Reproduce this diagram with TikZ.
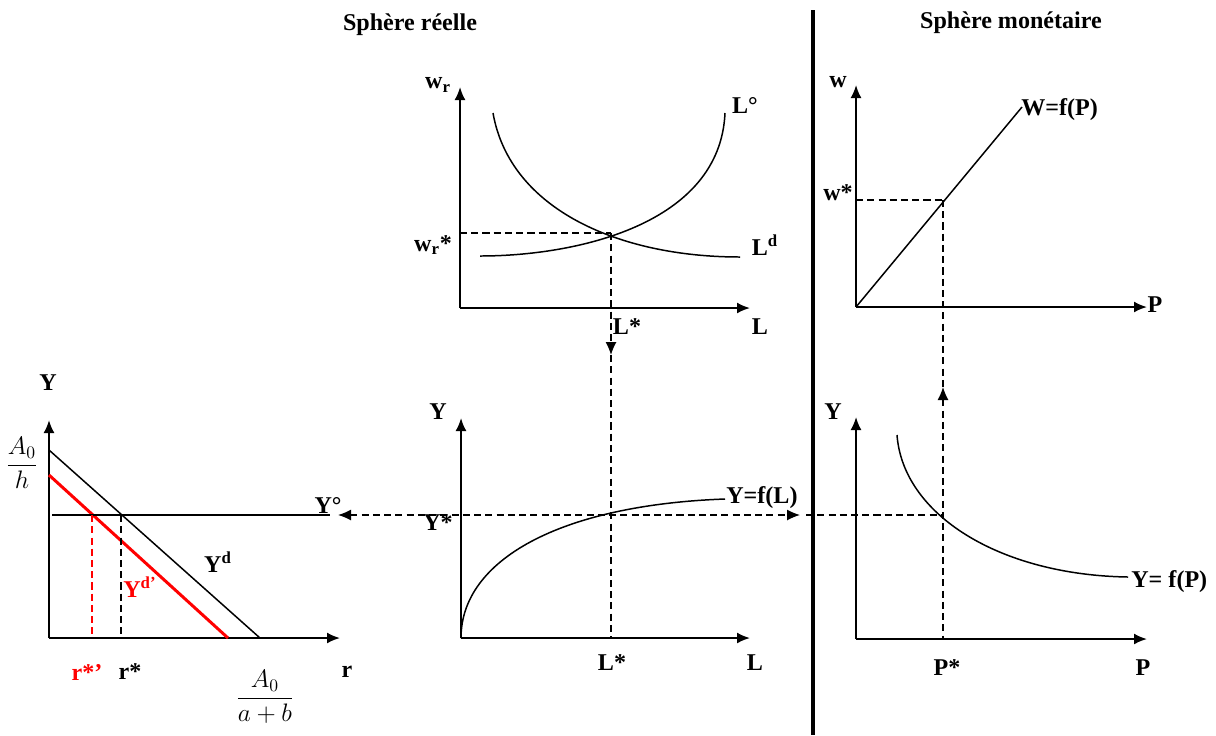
\documentclass[tikz,border=0pt]{standalone}
\usepackage{fontspec}
\setmainfont{Liberation Serif}
\usepackage{amsmath}
\usetikzlibrary{arrows.meta}

\tikzset{
  axe/.style={->,line width=1.1pt},
  courbe/.style={line width=0.85pt},
  pointille/.style={line width=0.7pt,dash pattern=on 4pt off 2.4pt},
  lab/.style={font=\fontsize{13.7}{16}\selectfont\bfseries,inner sep=0pt}
}

\begin{document}
\begin{tikzpicture}[x=0.02cm,y=-0.02cm,>={Latex[length=2.6mm,width=2.2mm]}]
\useasboundingbox (0,0) rectangle (1216,735);

\draw[line width=2.8pt] (813,10) -- (813,735);
\node[lab] (T1) at (410,25) {Sphère réelle};
\node[lab] (T2) at (1011,23) {Sphère monétaire};

% marche du travail
\coordinate (O1) at (460,308);
\coordinate (E1) at (611,233);
\draw[axe] (O1) -- (460,87);
\draw[axe] (O1) -- (750,308);
\draw[courbe] (480,256) .. controls (575,256) and (720,225) .. (725,113);
\draw[courbe] (493,113) .. controls (510,210) and (620,257) .. (740,257);
\draw[pointille] (460,233) -- (E1);
\draw[pointille,->] (E1) -- (611,355);
\draw[pointille] (611,355) -- (611,638);
\node[lab] (wr) at (438,85) {w\textsubscript{r}};
\node[lab] (wrs) at (433,245) {w\textsubscript{r}*};
\node[lab] (Lo) at (745,105) {L°};
\node[lab] (Ld) at (765,245) {L\textsuperscript{d}};
\node[lab] (Ls1) at (627,327) {L*};
\node[lab] (L1) at (760,327) {L};

% fonction de production
\coordinate (O2) at (461,638);
\draw[axe] (O2) -- (461,418);
\draw[axe] (O2) -- (750,638);
\draw[courbe] (O2) .. controls (461,560) and (560,505) .. (725,499);
\node[lab,anchor=west] (YfL) at (726,498) {Y=f(L)};
\node[lab] (Y2) at (438,412) {Y};
\node[lab] (Ys) at (438,523) {Y*};
\node[lab] (Ls2) at (612,663) {L*};
\node[lab] (L2) at (755,663) {L};

% marche des biens
\coordinate (O3) at (49,638);
\draw[axe] (O3) -- (49,420);
\draw[axe] (O3) -- (340,638);
\draw[courbe] (49,450) -- (260,638);
\draw[red,line width=1.7pt] (49,475) -- (228,638);
\draw[courbe] (52,515) -- (330,515);
\draw[pointille] (121,515) -- (121,638);
\draw[pointille,red] (92,515) -- (92,638);
\draw[pointille,<->] (338,515) -- (800,515);
\node[lab] (Y3) at (48,383) {Y};
\node (Ah) at (22,463) {\fontsize{13.7}{16}\selectfont$\dfrac{A_0}{h}$};
\node[lab] (Yo) at (328,505) {Y°};
\node[lab] (Yd) at (218,562) {Y\textsuperscript{d}};
\node[lab,red,anchor=west] (Yd2) at (123,587) {Y\textsuperscript{d’}};
\node[lab,red] (rs2) at (87,672) {r*’};
\node[lab] (rs) at (130,672) {r*};
\node (Aab) at (265,697) {\fontsize{13.7}{16}\selectfont$\dfrac{A_0}{a+b}$};
\node[lab] (r) at (347,672) {r};

% salaire nominal
\coordinate (O4) at (856,307);
\coordinate (E4) at (943,200);
\draw[axe] (O4) -- (856,85);
\draw[axe] (O4) -- (1147,307);
\draw[courbe] (O4) -- (1022,107);
\draw[pointille] (856,200) -- (E4);
\draw[pointille] (E4) -- (943,387);
\draw[pointille,<-] (943,387) -- (943,638);
\node[lab,anchor=west] (WfP) at (1021,110) {W=f(P)};
\node[lab] (w) at (838,82) {w};
\node[lab] (ws) at (838,193) {w*};
\node[lab] (P1) at (1155,305) {P};

% offre globale
\coordinate (O5) at (856,639);
\draw[axe] (O5) -- (856,417);
\draw[axe] (O5) -- (1147,639);
\draw[courbe] (897,435) .. controls (903,515) and (1000,575) .. (1128,577);
\draw[pointille] (806,515) -- (943,515);
\node[lab,anchor=west] (YfP) at (1131,582) {Y= f(P)};
\node[lab] (Y5) at (833,412) {Y};
\node[lab] (Ps) at (947,668) {P*};
\node[lab] (P2) at (1143,668) {P};
\end{tikzpicture}
\end{document}
